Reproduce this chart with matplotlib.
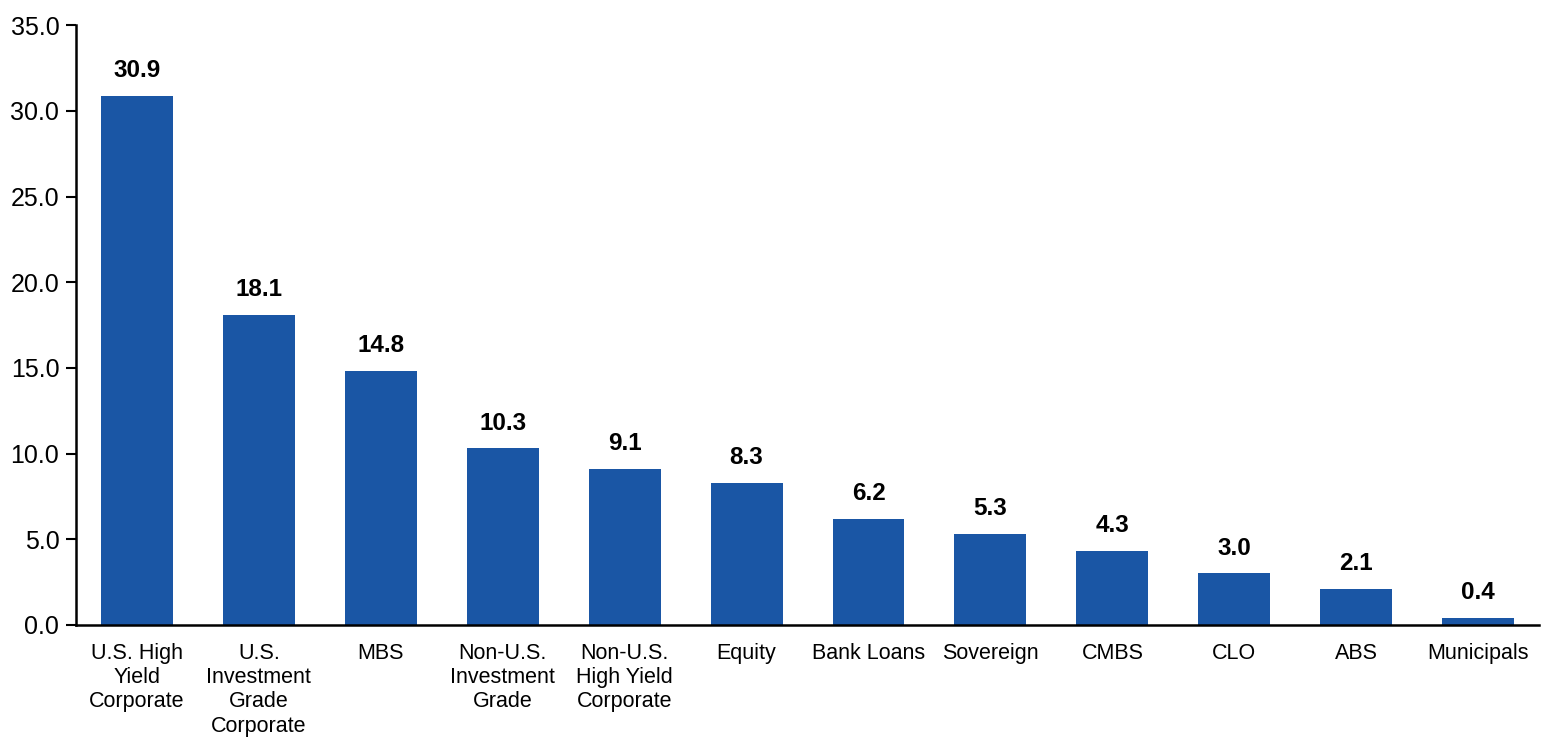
import matplotlib.pyplot as plt
from matplotlib.ticker import FuncFormatter

plt.rcParams['font.family'] = ['Liberation Sans', 'DejaVu Sans']

# Chart values
categories = ['U.S. High\nYield\nCorporate', 'U.S.\nInvestment\nGrade\nCorporate', 'MBS',
              'Non-U.S.\nInvestment\nGrade', 'Non-U.S.\nHigh Yield\nCorporate', 'Equity',
              'Bank Loans', 'Sovereign', 'CMBS', 'CLO', 'ABS', 'Municipals']
values = [30.9, 18.1, 14.8, 10.3, 9.1, 8.3, 6.2, 5.3, 4.3, 3.0, 2.1, 0.4]
y_ticks = [0, 5, 10, 15, 20, 25, 30, 35]

fig = plt.figure(figsize=(15.5, 7.43), dpi=100)
ax = fig.add_axes([0.049, 0.159, 0.944, 0.807])

x = range(len(categories))
bars = ax.bar(x, values, width=0.59, color='#1A56A5')

# value labels above bars
for rect, v in zip(bars, values):
    ax.annotate(f'{v:.1f}', (rect.get_x() + rect.get_width() / 2, v),
                xytext=(0, 10), textcoords='offset points', ha='center', va='bottom',
                fontsize=17.5, fontweight='bold', color='black')

ax.set_xlim(-0.5, len(categories) - 0.5)
ax.set_ylim(0, 35)
ax.set_yticks(y_ticks)
ax.yaxis.set_major_formatter(FuncFormatter(lambda y, _: f'{y:.1f}'))
ax.set_xticks(list(x))
ax.set_xticklabels(categories, fontsize=15.5, linespacing=1.2)
ax.tick_params(axis='x', length=0, pad=13)
ax.tick_params(axis='y', length=7, width=1.5, labelsize=18, pad=5, direction='out')

for side in ['top', 'right']:
    ax.spines[side].set_visible(False)
ax.spines['left'].set_linewidth(1.8)
ax.spines['bottom'].set_linewidth(1.8)

fig.savefig('out.png', dpi=100)
